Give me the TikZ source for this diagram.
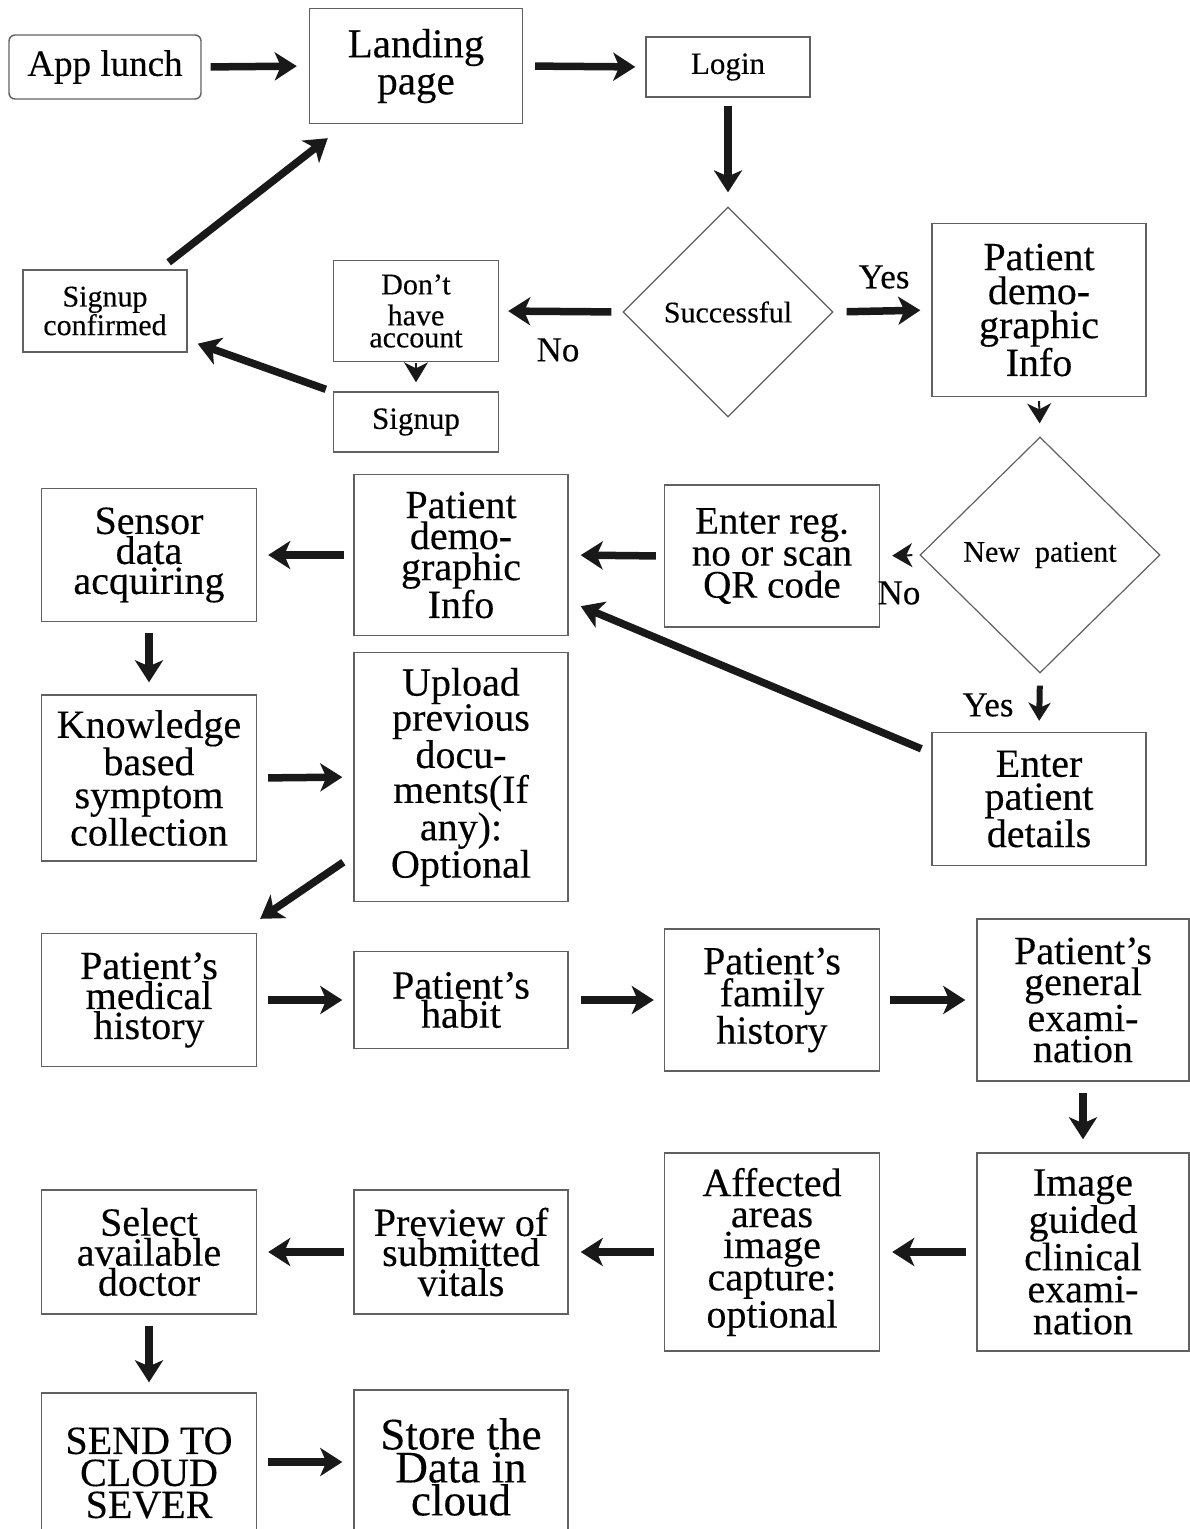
\documentclass[tikz,border=0pt]{standalone}
\usepackage{fontspec}
\setmainfont{Liberation Serif}[FakeBold=0.25]
\usetikzlibrary{arrows.meta,shapes.geometric}
\newcommand\fz[2]{\fontsize{#1}{#2}\selectfont}

\begin{document}
\begin{tikzpicture}[x=1pt,y=-1pt,
  box/.style={draw=black!62, line width=1.4pt, align=center, inner sep=0pt, fill=white},
  dec/.style={diamond, aspect=1, draw=black!62, line width=1.2pt, inner sep=0pt, align=center},
  big/.style={line width=7.5pt, draw=black!90, -{Stealth[length=22pt,width=28pt,inset=6pt]}},
  mid/.style={line width=6pt, draw=black!90, -{Stealth[length=18pt,width=22pt,inset=5pt]}},
  tipb/.style={line width=2pt, draw=black!90, -{Stealth[length=20pt,width=24pt,inset=6pt]}},
  lbl/.style={inner sep=0pt, font=\fz{35}{35}},
]
\useasboundingbox (0,0) rectangle (1190,1529);
\fill[white] (0,0) rectangle (1190,1529);

% ---- login and sign-up part ----
\node[box, rounded corners=6pt, minimum width=192, minimum height=64, font=\fz{37}{37}] (app) at (105,67) {App lunch};
\node[box, minimum width=213, minimum height=115, font=\fz{41}{37}] (land) at (416,66) {Landing\\page};
\node[box, minimum width=164, minimum height=60, font=\fz{31}{31}] (login) at (728,67) {Login};
\node[dec, minimum width=210, minimum height=210, font=\fz{30}{30}] (succ) at (728,312) {Successful};
\node[box, minimum width=214, minimum height=173, font=\fz{40}{34}] (pdA) at (1039,310) {Patient\\demo-\\graphic\\Info};
\node[box, minimum width=165, minimum height=101, font=\fz{30}{22}] (dha) at (416,311) {Don't\\[9pt]have\\account};
\node[box, minimum width=165, minimum height=60, font=\fz{31}{31}] (sgn) at (416,422) {Signup};
\node[box, minimum width=164, minimum height=82, font=\fz{30}{27}] (sgc) at (105,311) {Signup\\confirmed};

% ---- patient identification ----
\node[dec, minimum width=240, minimum height=236, font=\fz{30}{30}] (newp) at (1040,555) {New\enspace patient};
\node[box, minimum width=215, minimum height=142, font=\fz{39}{32}] (reg) at (772,556) {Enter reg.\\no or scan\\QR code};
\node[box, minimum width=214, minimum height=161, font=\fz{40}{31}] (pdB) at (461,555) {Patient\\demo-\\graphic\\Info};
\node[box, minimum width=215, minimum height=133, font=\fz{40}{30}] (sens) at (149,555) {Sensor\\data\\acquiring};
\node[box, minimum width=215, minimum height=166, font=\fz{40}{33}] (know) at (149,778) {Knowledge\\based\\symptom\\collection};
\node[box, minimum width=214, minimum height=249, font=\fz{40}{35}] (upl) at (461,777) {Upload\\previous\\docu-\\ments(If\\any):\\Optional};
\node[box, minimum width=214, minimum height=133, font=\fz{40}{33}] (epd) at (1039,799) {Enter\\patient\\details};

% ---- history and examination ----
\node[box, minimum width=215, minimum height=133, font=\fz{40}{30}] (med) at (149,1000) {Patient's\\medical\\history};
\node[box, minimum width=214, minimum height=97, font=\fz{40}{28}] (hab) at (461,1000) {Patient's\\habit};
\node[box, minimum width=215, minimum height=142, font=\fz{40}{32}] (fam) at (772,1000) {Patient's\\family\\history};
\node[box, minimum width=212, minimum height=162, font=\fz{40}{31}] (gen) at (1083,1000) {Patient's\\general\\exami-\\nation};
\node[box, minimum width=212, minimum height=198, font=\fz{40}{32}] (img) at (1083,1252) {Image\\guided\\clinical\\exami-\\nation};
\node[box, minimum width=215, minimum height=198, font=\fz{40}{31}] (aff) at (772,1252) {Affected\\areas\\image\\capture:\\optional};
\node[box, minimum width=214, minimum height=124, font=\fz{40}{30}] (prev) at (461,1252) {Preview of\\submitted\\vitals};
\node[box, minimum width=215, minimum height=124, font=\fz{40}{30}] (sel) at (149,1252) {Select\\available\\doctor};
\node[box, minimum width=215, minimum height=160, font=\fz{40}{32}] (send) at (149,1473) {SEND TO\\CLOUD\\SEVER};
\node[box, minimum width=214, minimum height=154, font=\fz{45}{33}] (store) at (461,1467) {Store the\\Data in\\cloud};

% ---- branch labels ----
\node[lbl] (noA) at (558,350) {No};
\node[lbl] (yesA) at (884,277) {Yes};
\node[lbl] (noB) at (899,593) {No};
\node[lbl] (yesB) at (988,705) {Yes};

% ---- connectors ----
\draw[big, shorten <=9pt, shorten >=12pt] (app.east) -- (land.west);
\draw[big, shorten <=12pt, shorten >=10pt] (land.east) -- (login.west);
\draw[big, shorten <=8pt, shorten >=14pt] (login.south) -- (succ.north);
\draw[big, shorten <=11pt, shorten >=9pt] (succ.west) -- (dha.east);
\draw[big, shorten <=13pt, shorten >=11pt] (succ.east) -- (pdA.west);
\draw[tipb, shorten <=1pt, shorten >=9pt] (dha.south) -- (sgn.north);
\draw[big] ([shift={(-7,-2)}]sgn.north west) -- ([shift={(10,-9)}]sgc.south east);
\draw[big] ([shift={(-19,-7)}]sgc.north east) -- ([shift={(19,14)}]land.south west);

\draw[tipb, shorten <=4pt, shorten >=13pt] (pdA.south) -- (newp.north);
\draw[tipb, shorten <=7pt, shorten >=12pt] (newp.west) -- (reg.east);
\draw[mid, shorten <=12pt, shorten >=11pt] (newp.south) -- (epd.north);
\draw[big] ([shift={(-10,17)}]epd.north west) -- ([shift={(12,-30)}]pdB.south east);
\draw[big, shorten <=8pt, shorten >=12pt] (reg.west) -- (pdB.east);
\draw[big, shorten <=9pt, shorten >=11pt] (pdB.west) -- (sens.east);
\draw[big, shorten <=11pt, shorten >=12pt] (sens.south) -- (know.north);
\draw[big, shorten <=11pt, shorten >=11pt] (know.east) -- (upl.west);
\draw[big] ([shift={(-10,-40)}]upl.south west) -- ([shift={(3,-14)}]med.north east);

\draw[big, shorten <=11pt, shorten >=11pt] (med.east) -- (hab.west);
\draw[big, shorten <=12pt, shorten >=10pt] (hab.east) -- (fam.west);
\draw[big, shorten <=10pt, shorten >=11pt] (fam.east) -- (gen.west);
\draw[big, shorten <=11pt, shorten >=13pt] (gen.south) -- (img.north);
\draw[big, shorten <=10pt, shorten >=12pt] (img.west) -- (aff.east);
\draw[big, shorten <=10pt, shorten >=12pt] (aff.west) -- (prev.east);
\draw[big, shorten <=9pt, shorten >=11pt] (prev.west) -- (sel.east);
\draw[big, shorten <=11pt, shorten >=10pt] (sel.south) -- (send.north);
\draw[big, shorten <=11pt, shorten >=11pt] ([shift={(0,-11)}]send.east) -- ([shift={(0,-5)}]store.west);
\end{tikzpicture}
\end{document}
